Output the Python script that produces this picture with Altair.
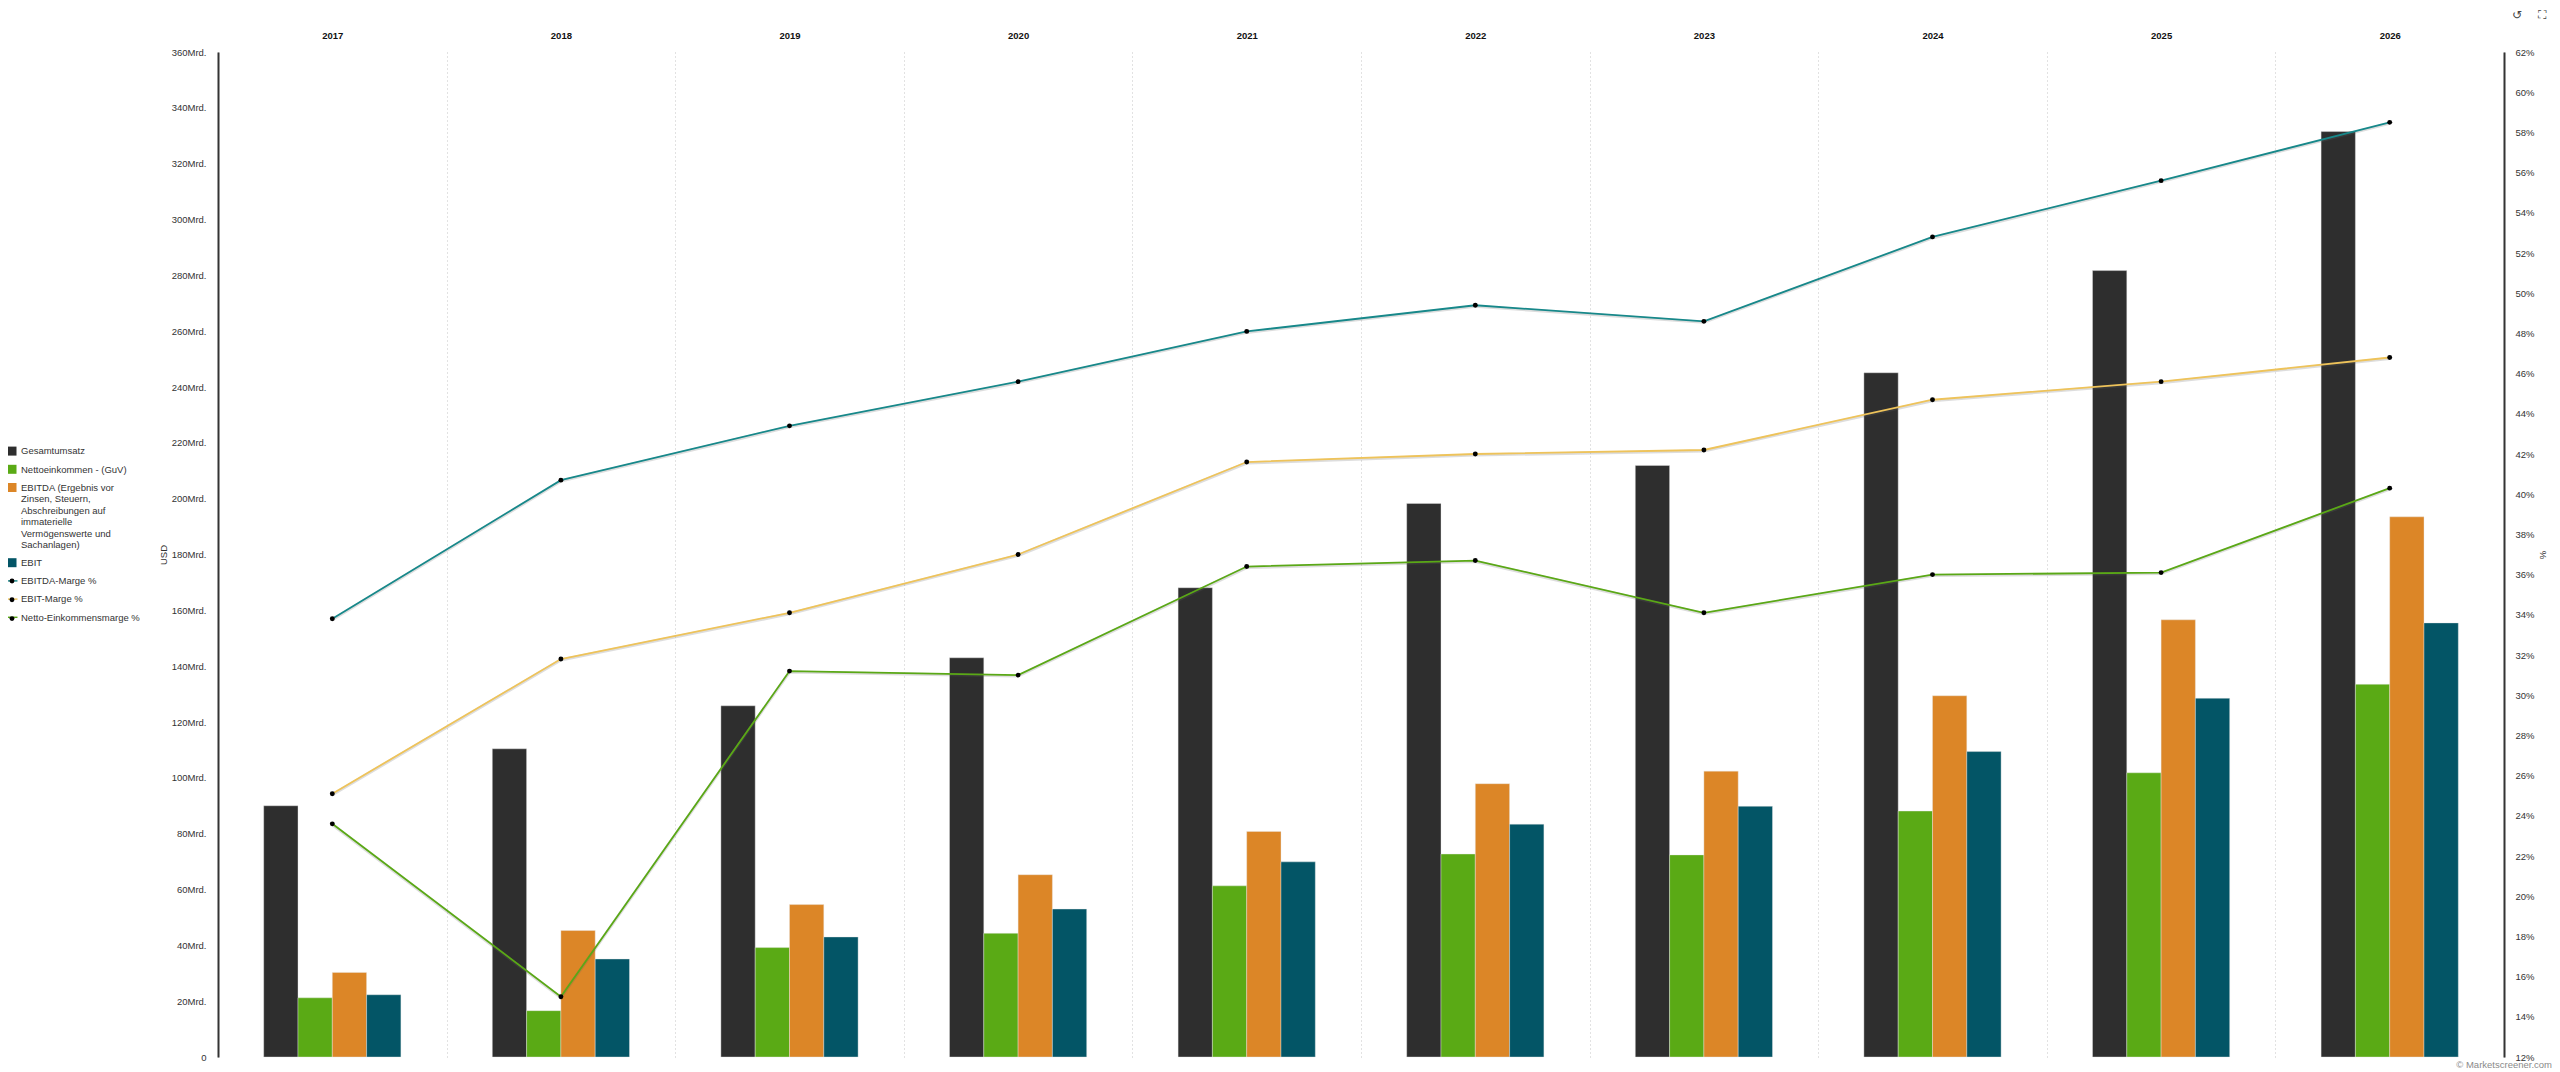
import altair as alt
import pandas as pd

years = ["2017","2018","2019","2020","2021","2022","2023","2024","2025","2026"]
EBITDA_NAME = "EBITDA (Ergebnis vor Zinsen, Steuern, Abschreibungen auf immaterielle Vermögenswerte und Sachanlagen)"
bar_names = ["Gesamtumsatz", "Nettoeinkommen - (GuV)", EBITDA_NAME, "EBIT"]
line_names = ["EBITDA-Marge %", "EBIT-Marge %", "Netto-Einkommensmarge %"]

revenue = [90.0, 110.4, 125.8, 143.0, 168.1, 198.3, 211.9, 245.1, 281.7, 331.5]
net_income = [21.2, 16.6, 39.2, 44.3, 61.3, 72.7, 72.4, 88.1, 101.8, 133.5]
ebitda = [30.3, 45.3, 54.6, 65.3, 80.8, 97.9, 102.4, 129.4, 156.6, 193.5]
ebit = [22.3, 35.1, 43.0, 53.0, 69.9, 83.4, 89.8, 109.4, 128.5, 155.5]

ebitda_margin = [33.8, 40.7, 43.4, 45.6, 48.1, 49.4, 48.6, 52.8, 55.6, 58.5]
ebit_margin = [25.1, 31.8, 34.1, 37.0, 41.6, 42.0, 42.2, 44.7, 45.6, 46.8]
net_margin = [23.6, 15.0, 31.2, 31.0, 36.4, 36.7, 34.1, 36.0, 36.1, 40.3]

bar_colors = ["#2e2e2e", "#5aaa15", "#dc8627", "#035566"]
line_colors = ["#17888a", "#eec35a", "#5aa816"]

all_names = bar_names + line_names
all_colors = bar_colors + line_colors

FONT = "Liberation Sans"
TEXT = "#333333"

bars_df = pd.DataFrame([
    {"year": y, "series": n, "value": v}
    for n, vals in zip(bar_names, [revenue, net_income, ebitda, ebit])
    for y, v in zip(years, vals)
])
lines_df = pd.DataFrame([
    {"year": y, "series": n, "margin": v}
    for n, vals in zip(line_names, [ebitda_margin, ebit_margin, net_margin])
    for y, v in zip(years, vals)
])
legend_df = pd.DataFrame({"series": all_names, "year": [years[0]] * len(all_names)})

color_scale = alt.Scale(domain=all_names, range=all_colors)
x_axis = alt.Axis(orient="top", domain=False, ticks=False, labelAngle=0, labelFont=FONT,
                  labelFontSize=9.5, labelFontWeight="bold", labelColor="#111111", labelPadding=12,
                  grid=True, gridDash=[1, 3], gridColor="#c4c4c4", gridWidth=1, tickBand="extent")
x_enc = alt.X("year:N", sort=years, title=None, axis=x_axis, scale=alt.Scale(paddingInner=0, paddingOuter=0))
y_margin = alt.Y("margin:Q", axis=None, scale=alt.Scale(domain=[12, 62], nice=False, zero=False))

SQ = "M-1.083,0.05H0.417V1.55H-1.083Z"
LN = "M-1.25,0.68H0.58V0.92H-1.25Z"
main_legend = alt.Legend(orient="none", legendX=-210, legendY=388.3, title=None, padding=0,
                         symbolSize=144, symbolOpacity=1, symbolStrokeWidth=0,
                         labelFont=FONT, labelFontSize=9.5, labelColor="#333333",
                         labelBaseline="top", labelLimit=400, rowPadding=2.2, labelOffset=1,
                         labelExpr=("datum.label == '" + EBITDA_NAME + "' ? "
                                    "['EBITDA (Ergebnis vor', 'Zinsen, Steuern,', "
                                    "'Abschreibungen auf', 'immaterielle', "
                                    "'Vermögenswerte und', 'Sachanlagen)'] : datum.label"))
color_enc = alt.Color("series:N", scale=color_scale, legend=main_legend)

bars = alt.Chart(bars_df).mark_bar(stroke="#e8e8e8", strokeWidth=0.5, strokeOpacity=0.8).encode(
    x=x_enc,
    xOffset=alt.XOffset("series:N", sort=bar_names,
                        scale=alt.Scale(domain=bar_names, paddingInner=0, paddingOuter=0, range=[45.7, 182.9])),
    y=alt.Y("value:Q", title="USD", scale=alt.Scale(domain=[0, 360], nice=False),
            axis=alt.Axis(orient="left", values=list(range(0, 361, 20)), grid=False, ticks=False,
                          domain=True, domainColor="#333333", domainWidth=2, labelFont=FONT, labelFontSize=9.5,
                          labelColor=TEXT, labelPadding=12, labelFlush=False,
                          labelExpr="datum.value == 0 ? '0' : datum.value + 'Mrd.'",
                          titleFont=FONT, titleFontSize=9.5, titleFontWeight="normal", titleColor=TEXT,
                          titlePadding=3)),
    color=color_enc,
)

shadow = alt.Chart(lines_df).mark_line(strokeWidth=3, opacity=0.22, color="#666666", yOffset=1).encode(
    x=x_enc, y=y_margin, detail="series:N",
)
lines = alt.Chart(lines_df).mark_line(strokeWidth=1.8).encode(
    x=x_enc,
    y=alt.Y("margin:Q", title="%", scale=alt.Scale(domain=[12, 62], nice=False, zero=False),
            axis=alt.Axis(orient="right", values=list(range(12, 63, 2)), grid=False, ticks=False,
                          domain=True, domainColor="#333333", domainWidth=2, labelFont=FONT, labelFontSize=9.5,
                          labelColor=TEXT, labelPadding=11, labelExpr="datum.value + '%'",
                          titleFont=FONT, titleFontSize=9.5, titleFontWeight="normal", titleColor=TEXT,
                          titlePadding=3)),
    color=color_enc,
)
dots = alt.Chart(lines_df).mark_point(filled=True, size=24, opacity=1, strokeWidth=0).encode(
    x=x_enc, y=y_margin,
    fill=alt.Fill("series:N", sort=line_names,
                  scale=alt.Scale(domain=line_names, range=["#000000"] * 3),
                  legend=alt.Legend(orient="none", legendX=-211, legendY=524, title=None, padding=0,
                                    symbolType="circle", symbolSize=24, labelExpr="''", rowPadding=8.8,
                                    labelFontSize=10, symbolStrokeWidth=0, symbolOpacity=1)),
)

legend_points = alt.Chart(legend_df).mark_point(filled=True, opacity=0, size=144, strokeWidth=0).encode(
    x=x_enc,
    y=alt.value(0),
    color=color_enc,
    shape=alt.Shape("series:N", scale=alt.Scale(domain=all_names, range=[SQ] * 4 + [LN] * 3)),
)

credit = alt.Chart(pd.DataFrame({"t": ["© Marketscreener.com"]})).mark_text(
    align="right", baseline="middle", font=FONT, fontSize=9.5, color="#8a8a8a"
).encode(text="t:N", x=alt.value(2334), y=alt.value(1013))

icons = alt.Chart(pd.DataFrame({"t": ["↺"]})).mark_text(
    align="center", baseline="middle", font="DejaVu Sans", fontSize=12, color="#444444"
).encode(text="t:N", x=alt.value(2299), y=alt.value(-37))
icons2 = alt.Chart(pd.DataFrame({"t": ["⛶"]})).mark_text(
    align="center", baseline="middle", font="DejaVu Sans", fontSize=12, color="#444444"
).encode(text="t:N", x=alt.value(2324), y=alt.value(-37))

chart = alt.layer(bars, legend_points, shadow, lines, dots, credit, icons, icons2).resolve_scale(
    y="independent", color="shared"
).resolve_axis(y="independent").properties(
    width=2286, height=1005, autosize=alt.AutoSizeParams(type="none"),
    padding={"left": 210, "top": 44, "right": 48, "bottom": 12}, background="white",
).configure_view(stroke=None)

chart.save("out.html", embed_options={"renderer": "svg", "actions": False})
